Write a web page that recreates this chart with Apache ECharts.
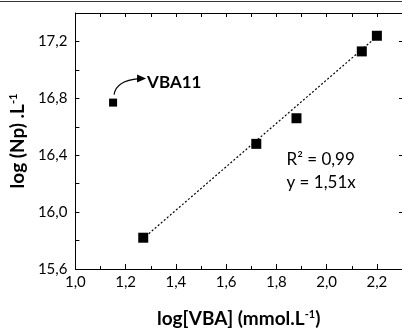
<!DOCTYPE html>
<html>
<head>
<meta charset="utf-8">
<script src="https://cdn.jsdelivr.net/npm/echarts@6/dist/echarts.min.js"></script>
<style>
  html, body { margin: 0; padding: 0; background: #fff; }
  #chart { width: 402px; height: 333px; }
</style>
</head>
<body>
<div id="chart"></div>
<script>
// data
var xValues = [1.27, 1.72, 1.88, 2.14, 2.20];
var yValues = [15.82, 16.48, 16.66, 17.13, 17.24];
var outlierPoint = [1.15, 16.77];   // VBA11
var fitX = [1.28, 2.21];
var fitY = [15.83, 17.25];

var FONT = 'Lato';

function comma(v, digits) {
	return v.toFixed(digits).replace('.', ',');
}

var mainData = [];
for (var i = 0; i < xValues.length; i++) {
	mainData.push([xValues[i], yValues[i]]);
}
var fitData = [];
for (var j = 0; j < fitX.length; j++) {
	fitData.push([fitX[j], fitY[j]]);
}

var chart = echarts.init(document.getElementById('chart'));

var nameRich = {
	a: { fontFamily: FONT, fontWeight: 'bold', fontSize: 19, color: '#000' },
	s: { fontFamily: FONT, fontWeight: 'bold', fontSize: 11, color: '#000', verticalAlign: 'top' }
};

var option = {
	animation: false,
	grid: { left: 75, top: 13, width: 329, height: 259 },
	xAxis: [{
		type: 'value', min: 1.0, max: 2.3, interval: 0.2,
		axisLine: { lineStyle: { color: '#000', width: 1 } },
		axisTick: { inside: true, length: 5, lineStyle: { color: '#000' } },
		axisLabel: {
			color: '#000', fontFamily: FONT, fontSize: 15, margin: 6, showMaxLabel: false,
			formatter: function(v) { return comma(v, 1); }
		},
		splitLine: { show: false },
		name: '{a|log[VBA] (mmol.L}{s|-1}{a|)}',
		nameLocation: 'middle', nameGap: 40,
		nameTextStyle: { rich: nameRich }
	}, {
		// minor ticks at 0.1
		type: 'value', min: 1.0, max: 2.3, interval: 0.1, gridIndex: 0, position: 'bottom',
		axisLine: { show: false },
		axisTick: { inside: true, length: 3, lineStyle: { color: '#000' } },
		axisLabel: { show: false },
		splitLine: { show: false }
	}, {
		type: 'value', min: 1.0, max: 2.3, interval: 0.1, position: 'top',
		axisLine: { lineStyle: { color: '#000', width: 1 } },
		axisTick: { inside: true, length: 4, lineStyle: { color: '#000' } },
		axisLabel: { show: false },
		splitLine: { show: false }
	}],
	yAxis: [{
		type: 'value', min: 15.6, max: 17.4, interval: 0.2,
		axisLine: { show: true, lineStyle: { color: '#000', width: 1 } },
		axisTick: { show: true, inside: true, length: 4, lineStyle: { color: '#000' } },
		axisLabel: {
			color: '#000', fontFamily: FONT, fontSize: 15, margin: 8, showMaxLabel: false,
			formatter: function(v) {
				var k = Math.round((v - 15.6) / 0.2);
				return k % 2 === 0 ? comma(v, 1) : '';
			}
		},
		splitLine: { show: false },
		name: '{a|log (Np) .L}{s|-1}',
		nameLocation: 'middle', nameGap: 45,
		nameTextStyle: { rich: nameRich }
	}, {
		type: 'value', min: 15.6, max: 17.4, interval: 0.4, position: 'right',
		axisLine: { show: true, lineStyle: { color: '#000', width: 1 } },
		axisTick: { show: true, inside: true, length: 3, lineStyle: { color: '#000' } },
		axisLabel: { show: false },
		splitLine: { show: false }
	}],
	series: [{
		type: 'line',
		data: fitData,
		symbol: 'none',
		lineStyle: { color: '#000', width: 1.2, type: [2, 2] },
		z: 2
	}, {
		type: 'scatter',
		data: mainData,
		symbol: 'rect',
		symbolSize: 10,
		itemStyle: { color: '#000', opacity: 1 },
		z: 3
	}, {
		type: 'scatter',
		data: [outlierPoint],
		symbol: 'rect',
		symbolSize: 8,
		itemStyle: { color: '#000', opacity: 1 },
		z: 3
	}]
};

chart.setOption(option);

// annotations placed relative to the data
var p = chart.convertToPixel({ gridIndex: 0 }, outlierPoint);
var t = chart.convertToPixel({ gridIndex: 0 }, [1.88, 16.40]);
chart.setOption({
	graphic: [{
		type: 'line', shape: { x1: 0, y1: 1.5, x2: 402, y2: 1.5 },
		style: { stroke: '#333', lineWidth: 1 }
	}, {
		type: 'bezierCurve',
		shape: { x1: p[0] + 1, y1: p[1] - 8, cpx1: p[0] + 3, cpy1: p[1] - 22, x2: p[0] + 26, y2: p[1] - 24 },
		style: { stroke: '#000', lineWidth: 1.2, fill: null }
	}, {
		type: 'polygon',
		shape: { points: [[p[0] + 24, p[1] - 28], [p[0] + 33, p[1] - 24], [p[0] + 24, p[1] - 20]] },
		style: { fill: '#000' }
	}, {
		type: 'text', x: p[0] + 34, y: p[1] - 20,
		style: { text: 'VBA11', fontFamily: FONT, fontWeight: 'bold', fontSize: 17, fill: '#000', verticalAlign: 'middle' }
	}, {
		type: 'text', x: t[0] - 10, y: t[1] - 7,
		style: { text: 'R² = 0,99\ny = 1,51x', fontFamily: FONT, fontSize: 17, lineHeight: 23, fill: '#000', verticalAlign: 'top' }
	}]
});
</script>
</body>
</html>
